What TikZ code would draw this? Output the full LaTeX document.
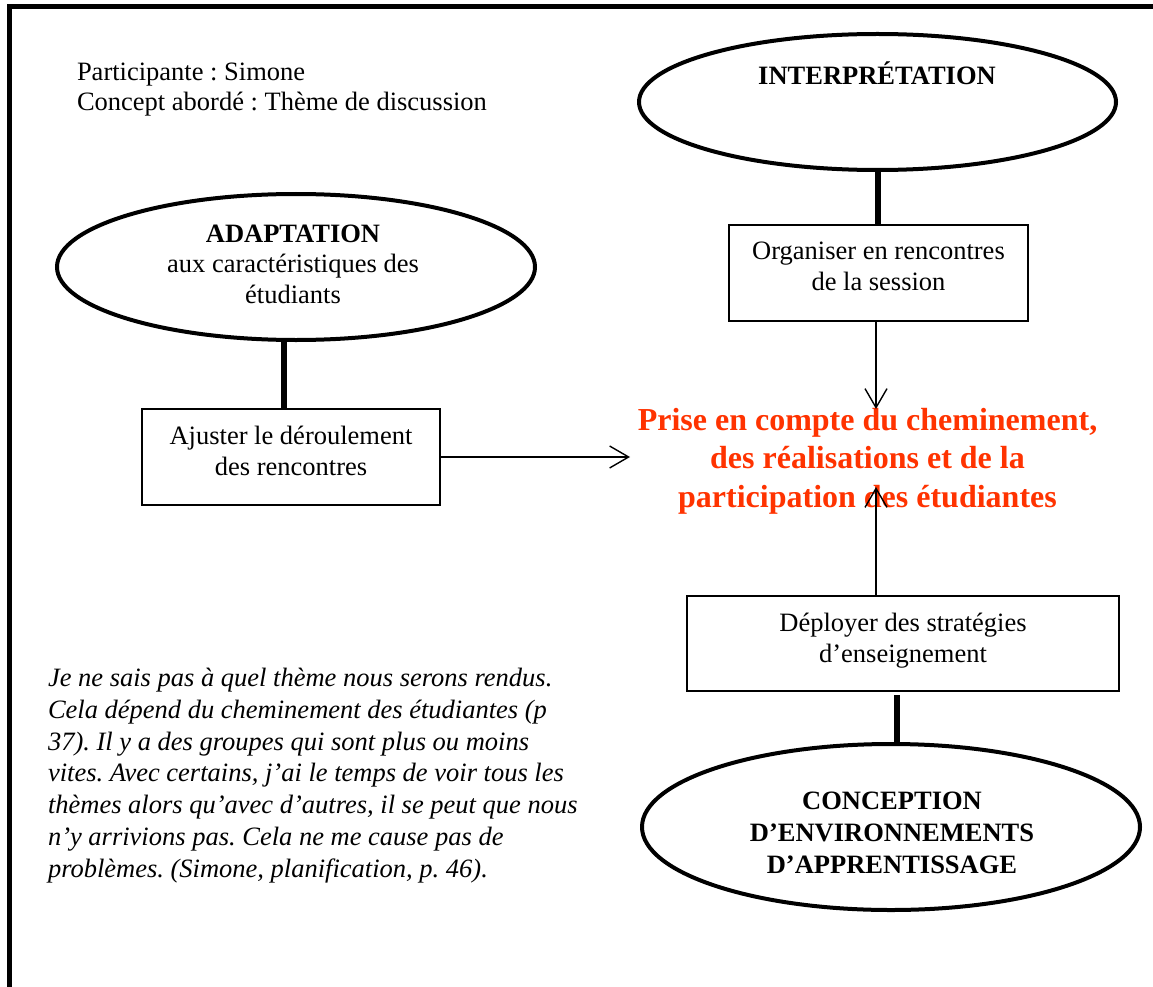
\documentclass[tikz,border=0pt]{standalone}
\usepackage{fontspec}
\setmainfont{Liberation Serif}
\frenchspacing
\usetikzlibrary{shapes.geometric,arrows.meta,calc}
\definecolor{redtxt}{RGB}{255,51,0}
\begin{document}
\begin{tikzpicture}[x=1pt,y=-1pt,
  every node/.style={inner sep=0pt, outer sep=0pt},
  txt/.style={font=\fontsize{26.5}{30.5}\selectfont, align=center},
  bigred/.style={font=\fontsize{32}{38.5}\selectfont\bfseries, text=redtxt, align=center},
  ell/.style={ellipse, draw, line width=4pt},
  box/.style={draw, line width=1.2pt},
  thickconn/.style={line width=6pt},
  arr/.style={line width=1.4pt, -{Straight Barb[length=19pt,width=22pt]}},
]
\useasboundingbox (0,0) rectangle (1153,987);
\clip (0,0) rectangle (1153,987);
\fill[white] (0,0) rectangle (1153,987);
\draw[line width=5pt] (9.5,1100) -- (9.5,7) -- (1200,7);

% header
\node[txt, align=left, anchor=base west] (part) at (77,111) {Participante : Simone\\Concept abordé : Thème de discussion};

% ellipses
\node[ell, minimum width=477pt, minimum height=136pt] (interp) at (877.5,102) {};
\node[txt, anchor=base] (interpt) at (877,85) {\bfseries INTERPRÉTATION};

\node[ell, minimum width=478pt, minimum height=146pt] (adapt) at (296,267) {};
\node[txt, anchor=base] (adaptt) at (293,303) {\textbf{ADAPTATION}\\aux caractéristiques des\\étudiants};

\node[ell, minimum width=498pt, minimum height=166pt] (conc) at (891,827) {};
\node[txt, anchor=base, font=\fontsize{26.5}{32}\selectfont] (conct) at (892,873) {\bfseries CONCEPTION\\\bfseries D’ENVIRONNEMENTS\\\bfseries D’APPRENTISSAGE};

% boxes
\node[box, minimum width=299pt, minimum height=96pt] (org) at (878.5,273) {};
\node[txt, anchor=base] (orgt) at (878.5,290) {Organiser en rencontres\\de la session};

\node[box, minimum width=298pt, minimum height=96pt] (aj) at (291,457) {};
\node[txt, anchor=base] (ajt) at (291,475) {Ajuster le déroulement\\des rencontres};

\node[box, minimum width=432pt, minimum height=95pt] (dep) at (903,643.5) {};
\node[txt, anchor=base] (dept) at (903,662) {Déployer des stratégies\\d’enseignement};

% central red text
\node[bigred, anchor=base] (prise) at (867.5,507) {Prise en compte du cheminement,\\des réalisations et de la\\participation des étudiantes};

% quote
\node[txt, align=left, anchor=base west, font=\fontsize{26.5}{31.7}\selectfont\itshape] (quote) at (48,877) {Je ne sais pas à quel thème nous serons rendus.\\Cela dépend du cheminement des étudiantes (p\\37). Il y a des groupes qui sont plus ou moins\\vites. Avec certains, j’ai le temps de voir tous les\\thèmes alors qu’avec d’autres, il se peut que nous\\n’y arrivions pas. Cela ne me cause pas de\\problèmes. (Simone, planification, p. 46).};

% connectors
\coordinate (pw) at (630,457);
\coordinate (pb) at (876,487);
\coordinate (pt) at (876,409);
\draw[thickconn] (interp.south) -- (interp.south |- org.north);
\draw[thickconn] ($(adapt.south)+(-12,0)$) -- ($(adapt.south |- aj.north)+(-12,0)$);
\draw[thickconn] ($(conc.north |- dep.south)+(6,4)$) -- ($(conc.north)+(6,0)$);
\draw[arr] (pb |- org.south) -- (pt);
\draw[arr] (aj.east) -- (pw);
\draw[arr] (pb |- dep.north) -- (pb);
\end{tikzpicture}
\end{document}
